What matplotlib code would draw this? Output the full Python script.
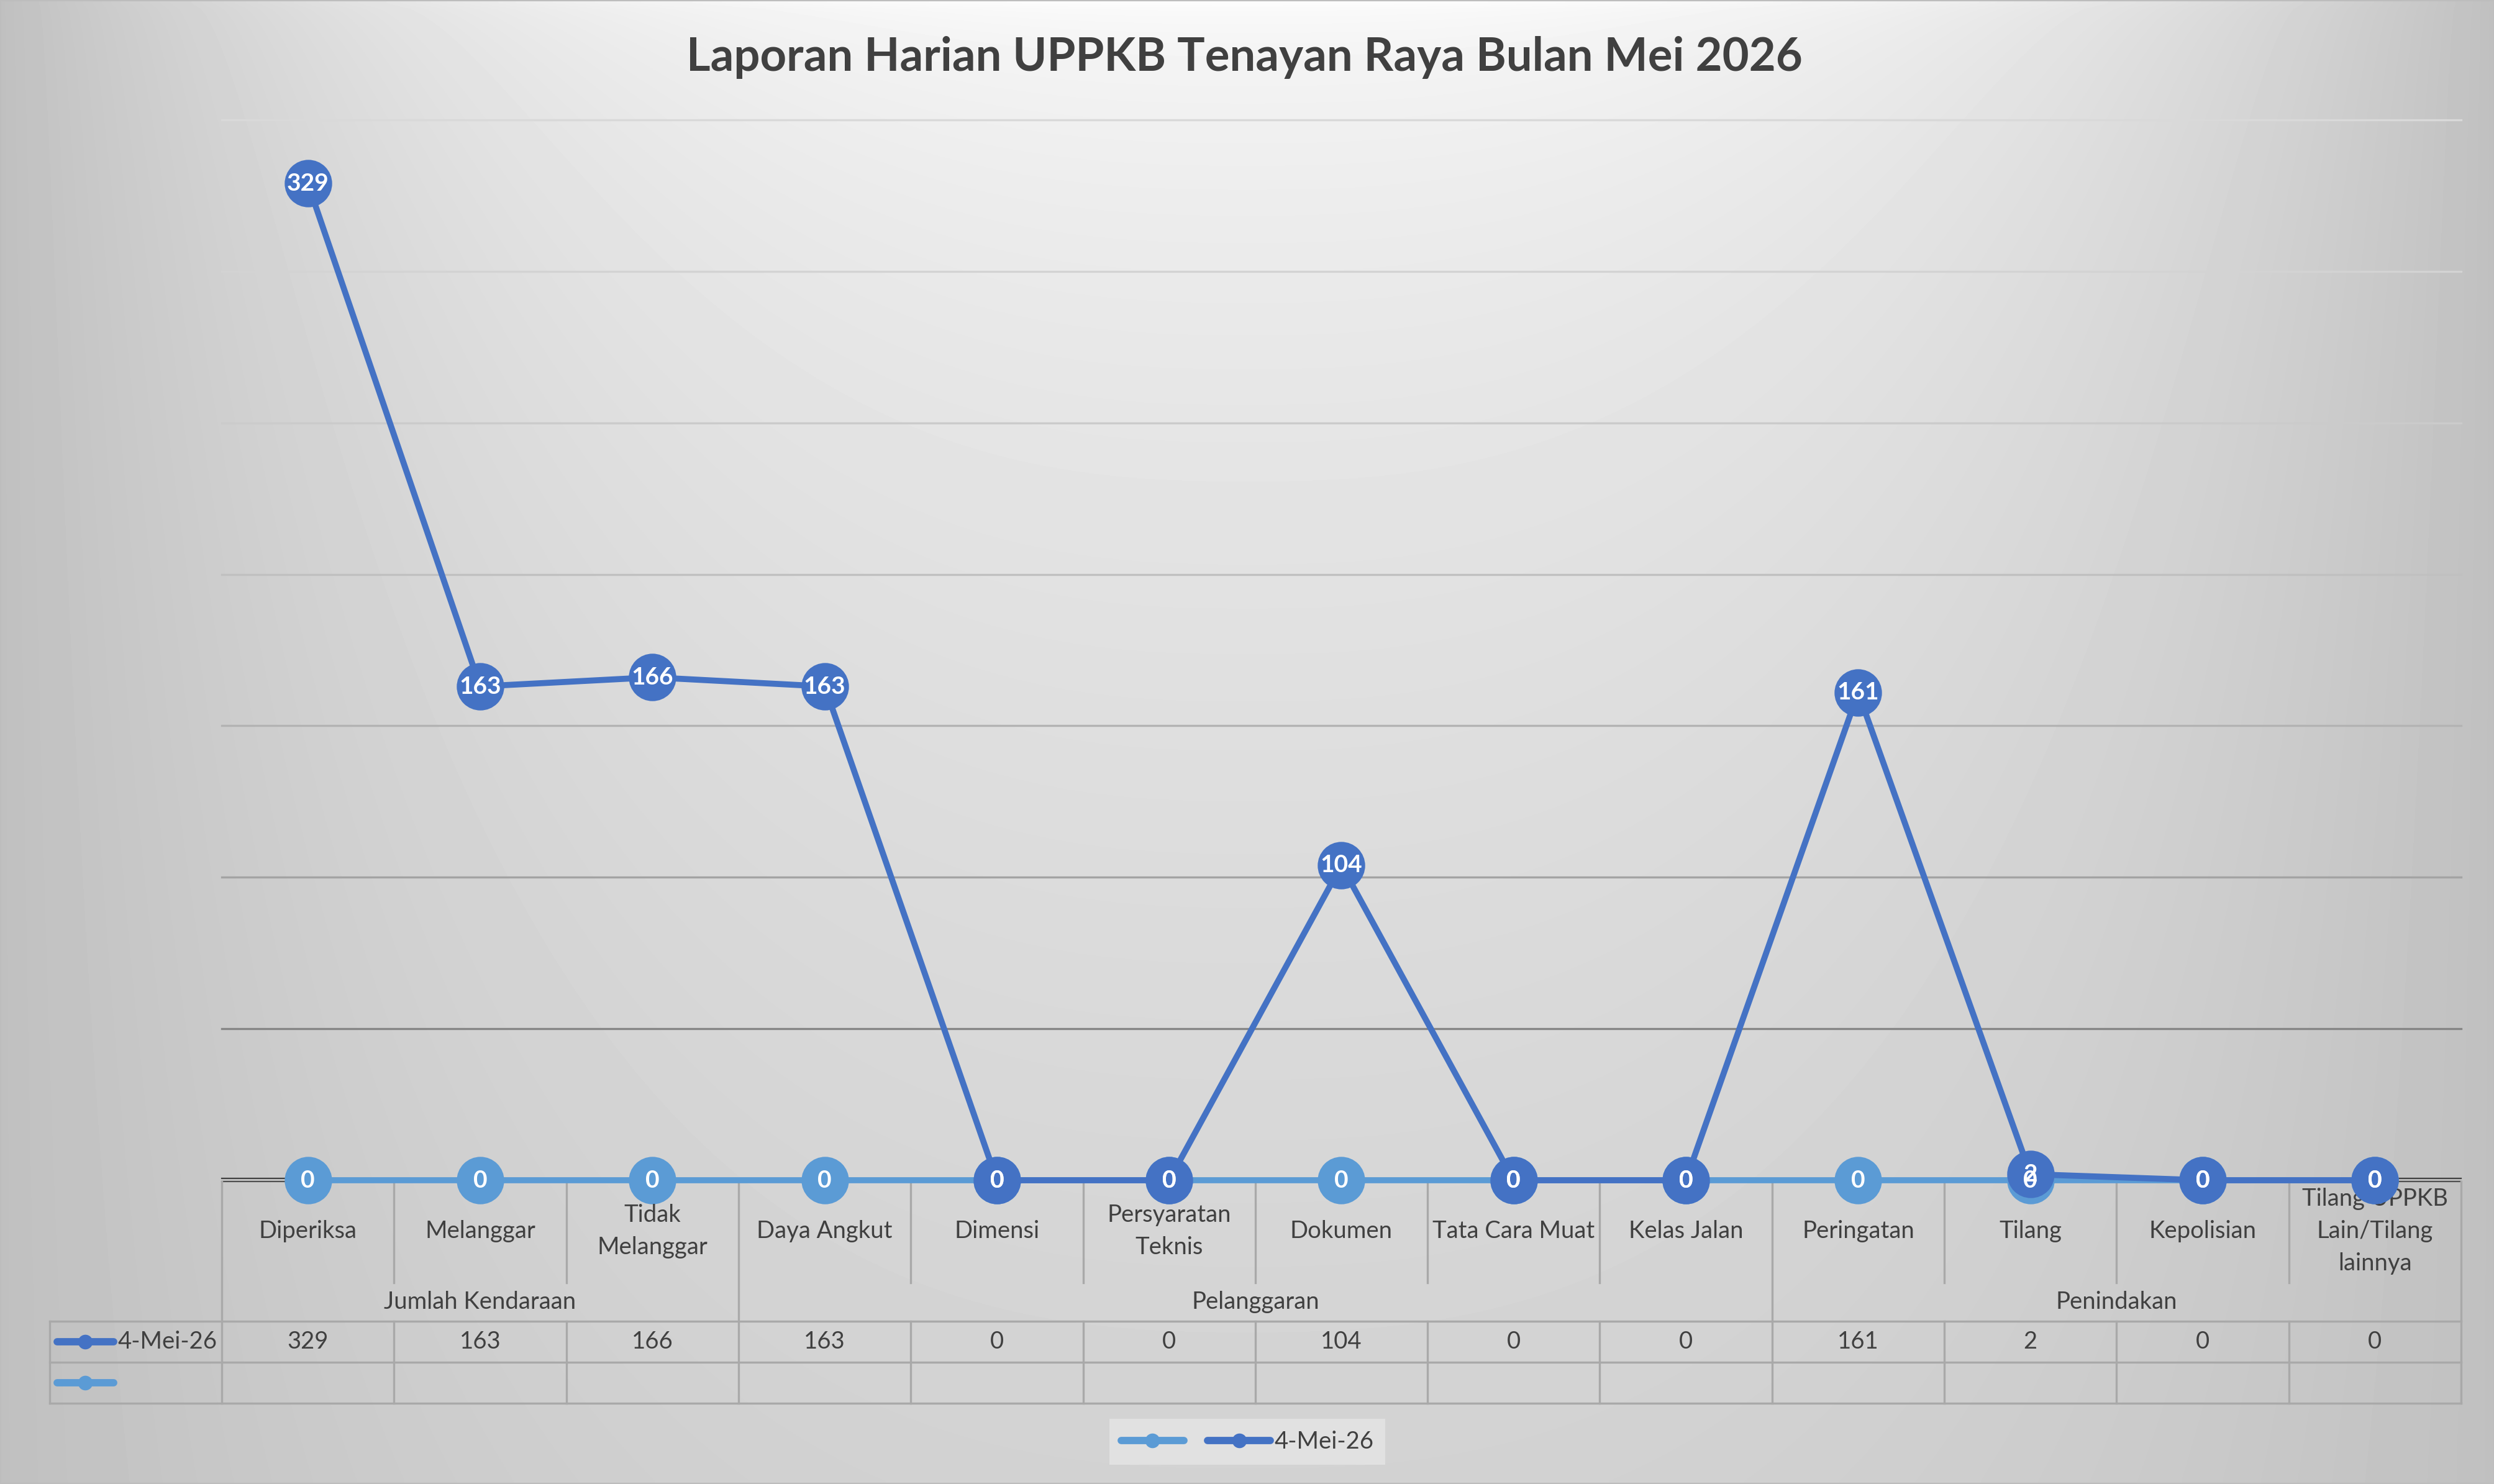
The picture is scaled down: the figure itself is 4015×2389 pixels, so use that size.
import numpy as np
import matplotlib
matplotlib.use('Agg')
import matplotlib.pyplot as plt
import matplotlib.transforms as mtransforms
from matplotlib.lines import Line2D
from matplotlib.patches import Rectangle

plt.rcParams['font.family'] = ['Lato', 'DejaVu Sans']

# ---- data ----
title = 'Laporan Harian UPPKB Tenayan Raya Bulan Mei 2026'
categories = ['Diperiksa', 'Melanggar', 'Tidak\nMelanggar', 'Daya Angkut', 'Dimensi',
              'Persyaratan\nTeknis', 'Dokumen', 'Tata Cara Muat', 'Kelas Jalan',
              'Peringatan', 'Tilang', 'Kepolisian', 'Tilang UPPKB\nLain/Tilang\nlainnya']
groups = ['Jumlah Kendaraan', 'Pelanggaran', 'Penindakan']
group_sizes = [3, 6, 4]
series_name = '4-Mei-26'
values = [329, 163, 166, 163, 0, 0, 104, 0, 0, 161, 2, 0, 0]
# second series has no name and no table values, plotted as zeros
blank_series = [0, 0, 0, 0, 0, 0, 0, 0, 0, 0, 0, 0, 0]

grid_levels = [50, 100, 150, 200, 250, 300, 350]
grid_colors = ['#858585', '#a3a3a3', '#b3b3b3', '#c0c0c0', '#cbcbcb', '#d3d3d3', '#d9d9d9']

dark = '#4472C4'
light = '#5B9BD5'
text_col = '#404040'
table_col = '#a9a9a9'

W, H = 4016, 2389


def fx(px):
    return px / W


def fy(py):
    return 1 - py / H


fig = plt.figure(figsize=(W / 100, H / 100), dpi=100)

# background gradient
bg = fig.add_axes([0, 0, 1, 1], zorder=-10)
gx, gy = np.meshgrid(np.linspace(0, 1, 400), np.linspace(0, 1, 240))
ux = np.clip(np.abs(gx - 0.5) / 0.5, 0, 1) ** 2.5
uy = 0.7 * np.sqrt(gy)
shade = 1 - (1 - ux) * (1 - uy)
img = (252 - 60 * shade) / 255.0
bg.imshow(img, cmap='gray', vmin=0, vmax=1, aspect='auto', extent=(0, 1, 0, 1),
          interpolation='bilinear')
bg.set_xlim(0, 1)
bg.set_ylim(0, 1)
bg.axis('off')
fig.add_artist(Rectangle((0, 0), 1, 1, transform=fig.transFigure, fill=False,
                         edgecolor='#bdbdbd', lw=3))

# main axes
ax = fig.add_axes([fx(357), fy(1900), fx(3962) - fx(357), (1900 - 193) / H])
ax.set_xlim(-0.5, len(categories) - 0.5)
ax.set_ylim(0, 350)
ax.patch.set_alpha(0)
for s in ax.spines.values():
    s.set_visible(False)
ax.set_xticks([])
ax.set_yticks([])

for lvl, c in zip(grid_levels, grid_colors):
    ax.axhline(lvl, color=c, lw=2.4, zorder=1, clip_on=False)

x = np.arange(len(categories))
trans = mtransforms.blended_transform_factory(ax.transData, fig.transFigure)

# category axis line (double)
ax.plot([-0.5, 12.5], [fy(1897), fy(1897)], transform=trans, color='#404040', lw=1.6,
        clip_on=False, zorder=2)
ax.plot([-0.5, 12.5], [fy(1902), fy(1902)], transform=trans, color='#505050', lw=1.6,
        clip_on=False, zorder=2)

ax.plot(x, blank_series, color=light, lw=7, marker='o', ms=55, mew=0,
        solid_capstyle='round', zorder=3, clip_on=False)
ax.plot(x, values, color=dark, lw=7, marker='o', ms=55, mew=0,
        solid_capstyle='round', zorder=4, clip_on=False)
for i, v in enumerate(blank_series):
    ax.text(i, v, str(v), ha='center', va='center', color='white', fontsize=28,
            fontweight='bold', zorder=5)
for i, v in enumerate(values):
    ax.text(i, v, str(v), ha='center', va='center', color='white', fontsize=28,
            fontweight='bold', zorder=6)

# ---- data table under the chart ----
bounds = np.cumsum([0] + group_sizes) - 0.5
for b in np.arange(-0.5, len(categories), 1.0):
    if np.any(np.isclose(bounds, b)):
        ax.plot([b, b], [fy(1902), fy(2259)], transform=trans, color=table_col, lw=2.4,
                clip_on=False)
    else:
        ax.plot([b, b], [fy(1902), fy(2065)], transform=trans, color=table_col, lw=2.4,
                clip_on=False)
        ax.plot([b, b], [fy(2127), fy(2259)], transform=trans, color=table_col, lw=2.4,
                clip_on=False)
ax.plot([-1.5, -1.5], [fy(2127), fy(2259)], transform=trans, color=table_col, lw=2.4,
        clip_on=False)
for yy in [2127, 2193, 2259]:
    ax.plot([-1.5, 12.5], [fy(yy), fy(yy)], transform=trans, color=table_col, lw=2.4,
            clip_on=False)

for i, cat in enumerate(categories):
    ax.text(i, fy(1982), cat, transform=trans, ha='center', va='center', fontsize=27.5,
            color=text_col, linespacing=1.55)
for g, lo, hi in zip(groups, bounds[:-1], bounds[1:]):
    ax.text((lo + hi) / 2, fy(2096), g, transform=trans, ha='center', va='center',
            fontsize=27.5, color=text_col)
for i, v in enumerate(values):
    ax.text(i, fy(2160), str(v), transform=trans, ha='center', va='center', fontsize=27.5,
            color=text_col)

# row keys
for yy, col in [(2160, dark), (2226, light)]:
    fig.add_artist(Line2D([fx(92), fx(183)], [fy(yy), fy(yy)], color=col, lw=8.5,
                          solid_capstyle='round'))
    fig.add_artist(Line2D([fx(137)], [fy(yy)], color=col, marker='o', ms=17, mew=0))
fig.text(fx(190), fy(2160), series_name, ha='left', va='center', fontsize=27.5, color=text_col)

# title
fig.text(fx(2003), fy(114), title, ha='center', va='baseline', fontsize=53.5,
         fontweight='bold', color=text_col)

# legend
handles = [Line2D([], [], color=light, lw=8.5, marker='o', ms=17, mew=0, solid_capstyle='round'),
           Line2D([], [], color=dark, lw=8.5, marker='o', ms=17, mew=0, solid_capstyle='round')]
leg = fig.legend(handles, ['', series_name], loc='center', bbox_to_anchor=(fx(2008), fy(2321)),
                 ncol=2, frameon=True, fancybox=False, facecolor='#e1e1e1', edgecolor='none',
                 framealpha=1, fontsize=27.5, handlelength=2.65, handletextpad=0.15,
                 columnspacing=0.85, borderpad=0.5, borderaxespad=0)
for t in leg.get_texts():
    t.set_color(text_col)

fig.savefig('out.png', dpi=100)
